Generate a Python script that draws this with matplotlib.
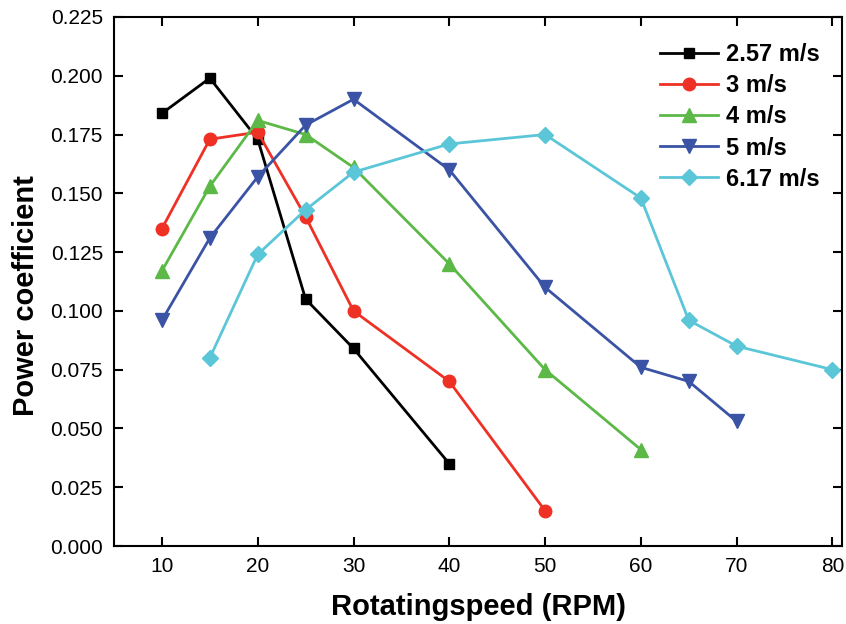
import matplotlib
matplotlib.use("Agg")
import matplotlib.pyplot as plt

plt.rcParams["font.family"] = ["Liberation Sans", "DejaVu Sans"]

# Power coefficient vs rotating speed for each wind speed
rpm_257 = [10, 15, 20, 25, 30, 40]
cp_257 = [0.184, 0.199, 0.173, 0.105, 0.084, 0.035]

rpm_3 = [10, 15, 20, 25, 30, 40, 50]
cp_3 = [0.135, 0.173, 0.176, 0.140, 0.100, 0.070, 0.015]

rpm_4 = [10, 15, 20, 25, 30, 40, 50, 60]
cp_4 = [0.117, 0.153, 0.181, 0.175, 0.161, 0.120, 0.075, 0.041]

rpm_5 = [10, 15, 20, 25, 30, 40, 50, 60, 65, 70]
cp_5 = [0.096, 0.131, 0.157, 0.179, 0.190, 0.160, 0.110, 0.076, 0.070, 0.053]

rpm_617 = [15, 20, 25, 30, 40, 50, 60, 65, 70, 80]
cp_617 = [0.080, 0.124, 0.143, 0.159, 0.171, 0.175, 0.148, 0.096, 0.085, 0.075]

series = [
    (rpm_257, cp_257, "2.57 m/s", "black", "s", 7.5),
    (rpm_3, cp_3, "3 m/s", "#ee3124", "o", 9),
    (rpm_4, cp_4, "4 m/s", "#5cb947", "^", 9.5),
    (rpm_5, cp_5, "5 m/s", "#3a53a4", "v", 9.5),
    (rpm_617, cp_617, "6.17 m/s", "#5bc6d8", "D", 8.5),
]

fig = plt.figure(figsize=(8.46, 6.24), dpi=100)
ax = fig.add_axes([0.1348, 0.125, 0.8605, 0.8478])

for x, y, label, color, marker, ms in series:
    ax.plot(x, y, color=color, marker=marker, markersize=ms, lw=2, label=label)

ax.set_xlim(5, 81)
ax.set_ylim(0, 0.225)
ax.set_xticks([10, 20, 30, 40, 50, 60, 70, 80])
ax.set_yticks([i * 0.025 for i in range(10)])
ax.set_yticklabels([f"{i * 0.025:.3f}" for i in range(10)])
ax.tick_params(direction="in", length=6.5, width=1.5, labelsize=15,
               top=True, right=True, pad=8)
for s in ax.spines.values():
    s.set_linewidth(1.5)

ax.set_xlabel("Rotatingspeed (RPM)", fontsize=21, fontweight="bold", labelpad=12)
ax.set_ylabel("Power coefficient", fontsize=21, fontweight="bold")
ax.yaxis.set_label_coords(-0.102, 0.473)

ax.legend(loc="upper left", bbox_to_anchor=(0.75, 0.95), frameon=False,
          borderpad=0, borderaxespad=0,
          handlelength=2.45, handletextpad=0.35, labelspacing=0.34,
          prop={"weight": "bold", "size": 17})

fig.savefig("out.png", dpi=100)
